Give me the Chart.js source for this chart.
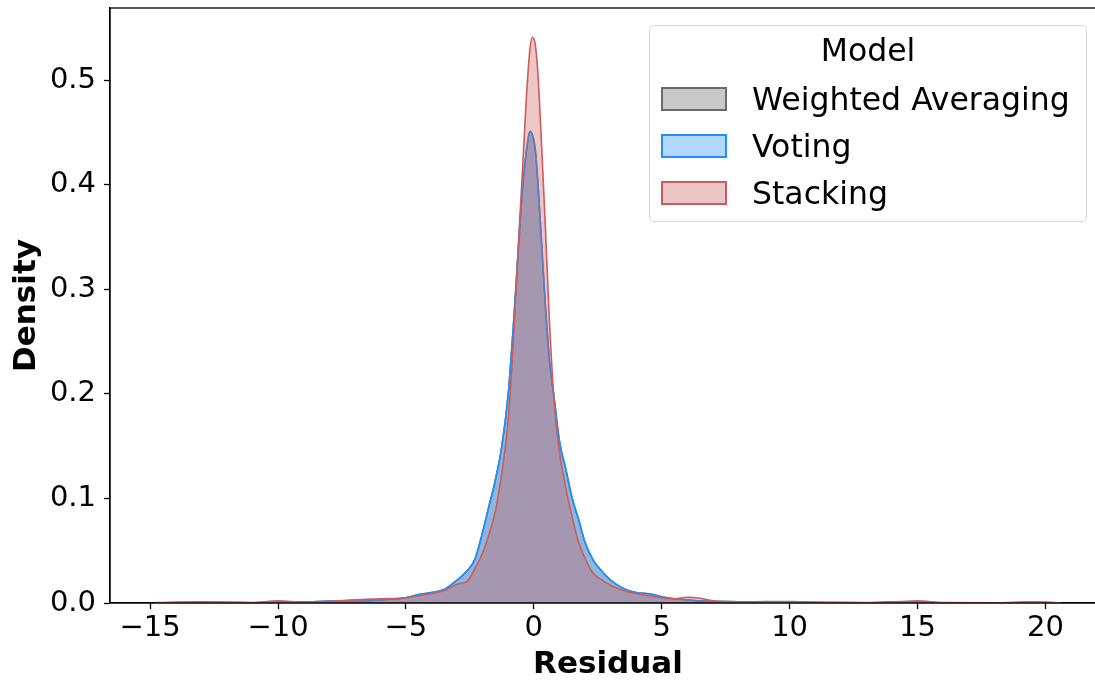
<!DOCTYPE html>
<html>
<head>
<meta charset="utf-8">
<script src="https://cdn.jsdelivr.net/npm/chart.js@4/dist/chart.umd.min.js"></script>
<style>
  body { margin: 0; background: #fff; overflow: hidden; }
  #wrap { position: relative; width: 1095px; height: 684px; overflow: hidden; }
  #legend {
    position: absolute; left: 649px; top: 25px; width: 436px; height: 195px;
    border: 1.5px solid #d6d6d6; border-radius: 5px; background: rgba(255,255,255,0.8);
    font-family: "DejaVu Sans", sans-serif; font-size: 31.5px; color: #000;
  }
  #legend .title { position: absolute; left: 0; right: 0; top: 6px; text-align: center; }
  #legend .item { position: absolute; left: 11px; height: 36px; display: flex; align-items: center; }
  #legend .swatch { width: 62px; height: 20px; border: 2px solid; margin-right: 25px; }
</style>
</head>
<body>
<div id="wrap">
  <canvas id="chart" width="1110" height="684"></canvas>
  <div id="legend"></div>
</div>
<script>
// residual grid (shared by all three density curves)
const residuals = [-14.8, -13, -11, -10, -9, -8, -7, -6, -5, -4.5, -4, -3.5, -3, -2.6, -2.3, -2,
  -1.75, -1.5, -1.25, -1, -0.8, -0.6, -0.45, -0.3, -0.15, -0.05, 0.05, 0.15, 0.3, 0.45, 0.6, 0.8,
  1, 1.25, 1.5, 1.75, 2, 2.3, 2.6, 3, 3.5, 4, 4.5, 5, 5.5, 6, 6.5, 7, 8, 9, 10, 11, 13, 14, 15, 16,
  18, 19.5, 20.6]

const weightedDensity = [0.0003, 0.0008, 0.0003, 0.001, 0.0008, 0.0018, 0.002, 0.003, 0.005, 0.008,
  0.010, 0.013, 0.022, 0.031, 0.042, 0.068, 0.093, 0.118, 0.150, 0.200, 0.265, 0.340, 0.395, 0.430,
  0.451, 0.447, 0.435, 0.405, 0.345, 0.285, 0.235, 0.195, 0.155, 0.128, 0.100, 0.080, 0.058, 0.042,
  0.032, 0.022, 0.014, 0.010, 0.0088, 0.006, 0.004, 0.003, 0.002, 0.0015, 0.0012, 0.0008, 0.0008,
  0.0005, 0.0003, 0.0008, 0.0006, 0.0003, 0.0003, 0.0008, 0.0002]

const votingDensity = [0.0003, 0.0008, 0.0003, 0.001, 0.0008, 0.0018, 0.002, 0.003, 0.005, 0.008,
  0.010, 0.013, 0.022, 0.031, 0.042, 0.068, 0.093, 0.118, 0.150, 0.200, 0.265, 0.340, 0.395, 0.430,
  0.451, 0.447, 0.435, 0.405, 0.345, 0.285, 0.235, 0.195, 0.155, 0.128, 0.100, 0.080, 0.058, 0.042,
  0.032, 0.022, 0.014, 0.010, 0.0088, 0.006, 0.004, 0.003, 0.002, 0.0015, 0.0012, 0.0008, 0.0008,
  0.0005, 0.0003, 0.0008, 0.0006, 0.0003, 0.0003, 0.0008, 0.0002]

const stackingDensity = [0.0005, 0.0005, 0.0005, 0.002, 0.0008, 0.0015, 0.003, 0.004, 0.005, 0.007,
  0.009, 0.012, 0.018, 0.021, 0.033, 0.048, 0.066, 0.088, 0.125, 0.175, 0.250, 0.345, 0.410, 0.480,
  0.530, 0.541, 0.535, 0.510, 0.440, 0.360, 0.275, 0.190, 0.145, 0.110, 0.082, 0.058, 0.043, 0.029,
  0.023, 0.017, 0.012, 0.009, 0.007, 0.005, 0.004, 0.0055, 0.0045, 0.002, 0.001, 0.0015, 0.0015,
  0.0008, 0.0005, 0.001, 0.002, 0.0005, 0.0003, 0.0003, 0.0002]

const xTicks = [-15, -10, -5, 0, 5, 10, 15, 20]
const yTicks = [0, 0.1, 0.2, 0.3, 0.4, 0.5]

const models = [
  { label: 'Weighted Averaging', values: weightedDensity, line: '#6b6b6b', fill: 'rgba(128,128,128,0.4)', swatch: '#c9c9c9' },
  { label: 'Voting', values: votingDensity, line: '#1e90ff', fill: 'rgba(30,144,255,0.35)', swatch: '#b2d8ff' },
  { label: 'Stacking', values: stackingDensity, line: '#cd5c5c', fill: 'rgba(205,92,92,0.35)', swatch: '#ecc5c5' }
]

const FONT = '"DejaVu Sans", sans-serif'

function toPoints(values) {
  return values.map(function(v, i) {
    return { x: residuals[i], y: v }
  })
}

const datasets = models.map(function(m, i) {
  return {
    label: m.label,
    data: toPoints(m.values),
    borderColor: m.line,
    backgroundColor: m.fill,
    borderWidth: 1.6,
    fill: 'origin',
    pointRadius: 0,
    cubicInterpolationMode: 'monotone',
    order: models.length - i // later models painted on top
  }
})

// axes box outline
const frame = {
  id: 'frame',
  afterDraw(chart) {
    const a = chart.chartArea
    const ctx = chart.ctx
    ctx.save()
    ctx.strokeStyle = '#000'
    ctx.lineWidth = 1.3
    ctx.strokeRect(a.left, a.top, a.right - a.left, a.bottom - a.top)
    ctx.restore()
  }
}

function minus(v) {
  return v < 0 ? '\u2212' + Math.abs(v) : String(v)
}

// no extra room for edge tick labels
function noEdgePadding(axis) {
  axis.paddingTop = 0
  axis.paddingBottom = 0
  axis.paddingLeft = 0
  axis.paddingRight = 0
}

const ctx = document.getElementById('chart').getContext('2d')
const chart = new Chart(ctx, {
  type: 'line',
  data: { datasets: datasets },
  options: {
    responsive: false,
    animation: false,
    layout: { padding: { top: 8, right: 4, left: 0, bottom: 0 } },
    plugins: { legend: { display: false }, tooltip: { enabled: false } },
    scales: {
      x: {
        type: 'linear',
        min: -16.57,
        max: 22.37,
        afterBuildTicks: function(axis) { axis.ticks = xTicks.map(function(v) { return { value: v } }) },
        afterFit: function(axis) { axis.height = 81; noEdgePadding(axis) },
        grid: { drawOnChartArea: false, drawTicks: true, tickLength: 6, tickColor: '#000', tickWidth: 1.3 },
        border: { display: true, color: '#000', width: 1.3 },
        ticks: {
          color: '#000', padding: 2, maxRotation: 0,
          font: { family: FONT, size: 29 },
          callback: function(v) { return minus(v) }
        },
        title: {
          display: true, text: 'Residual', color: '#000',
          font: { family: FONT, size: 31, weight: 'bold' },
          padding: { top: 0, bottom: 0 }
        }
      },
      y: {
        min: 0,
        max: 0.569,
        afterBuildTicks: function(axis) { axis.ticks = yTicks.map(function(v) { return { value: v } }) },
        afterFit: function(axis) { axis.width = 110; noEdgePadding(axis) },
        grid: { drawOnChartArea: false, drawTicks: true, tickLength: 6, tickColor: '#000', tickWidth: 1.3 },
        border: { display: true, color: '#000', width: 1.3 },
        ticks: {
          color: '#000', padding: 8,
          font: { family: FONT, size: 29 },
          callback: function(v) { return v.toFixed(1) }
        },
        title: {
          display: true, text: 'Density', color: '#000',
          font: { family: FONT, size: 31, weight: 'bold' },
          padding: { top: 8, bottom: 0 }
        }
      }
    }
  },
  plugins: [frame]
})

// legend box with the "Model" title
const legend = document.getElementById('legend')
let html = '<div class="title">Model</div>'
models.forEach(function(m, i) {
  html += '<div class="item" style="top:' + (55 + i * 47) + 'px">' +
    '<div class="swatch" style="background:' + m.swatch + ';border-color:' + m.line + '"></div>' +
    '<span>' + m.label + '</span></div>'
})
legend.innerHTML = html
</script>
</body>
</html>
